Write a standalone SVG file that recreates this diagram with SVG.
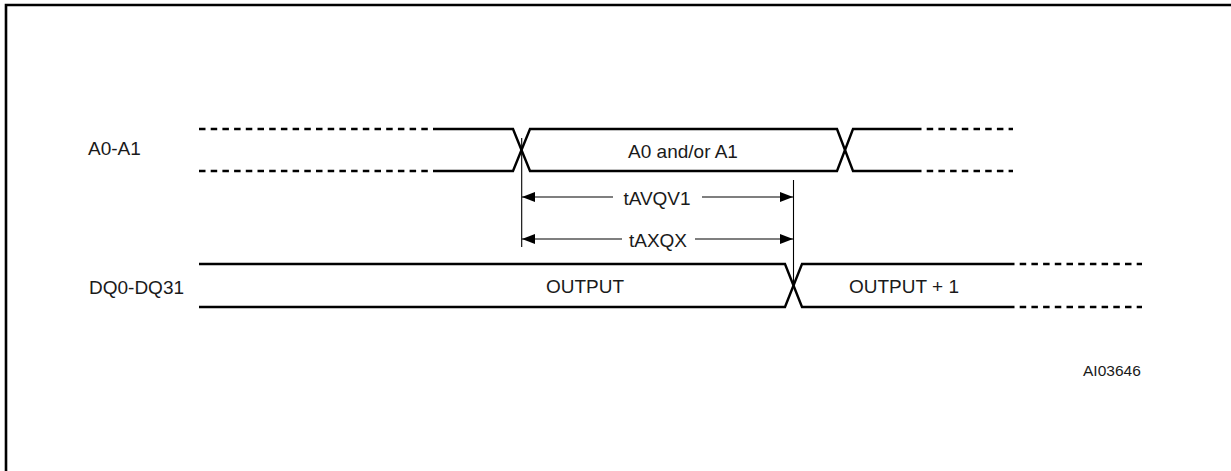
<svg xmlns="http://www.w3.org/2000/svg" width="1231" height="471" viewBox="0 0 1231 471">
<style>
text{font-family:"Liberation Sans",Arial,sans-serif;font-size:19px;fill:#1a1a1a}
.sig{fill:none;stroke:#000;stroke-width:2.4;stroke-linejoin:miter}
.dash{fill:none;stroke:#000;stroke-width:2.4;stroke-dasharray:6.5 5.2}
.thin{fill:none;stroke:#000;stroke-width:1.1}
.frame{fill:none;stroke:#000;stroke-width:2.6}
</style>
<defs>
<marker id="ah" viewBox="0 0 13 10" refX="13" refY="5" markerWidth="13" markerHeight="10" markerUnits="userSpaceOnUse" orient="auto-start-reverse">
<path d="M0,0 L13,5 L0,10 Z" fill="#000"/>
</marker>
</defs>
<path class="frame" d="M6,480 L6,5 L1240,5"/>
<g id="a0a1">
<text x="88" y="155">A0-A1</text>
<line class="dash" x1="199" y1="129" x2="437" y2="129"/>
<line class="dash" x1="199" y1="171" x2="437" y2="171"/>
<path class="sig" d="M437,129 L513,129 L530,171 L837,171 L853,129 L915,129"/>
<path class="sig" d="M437,171 L513,171 L530,129 L837,129 L853,171 L915,171"/>
<line class="dash" x1="915" y1="129" x2="1013" y2="129"/>
<line class="dash" x1="915" y1="171" x2="1013" y2="171"/>
<text x="683" y="158" text-anchor="middle">A0 and/or A1</text>
</g>
<g id="dq">
<text x="89" y="294">DQ0-DQ31</text>
<path class="sig" d="M199,264 L785,264 L802,307 L1008,307"/>
<path class="sig" d="M199,307 L785,307 L802,264 L1008,264"/>
<line class="dash" x1="1008" y1="264" x2="1142" y2="264"/>
<line class="dash" x1="1008" y1="307" x2="1142" y2="307"/>
<text x="585" y="293" text-anchor="middle">OUTPUT</text>
<text x="904" y="293" text-anchor="middle">OUTPUT + 1</text>
</g>
<g id="connectors">
<line class="thin" x1="521.7" y1="138" x2="521.7" y2="247"/>
<line class="thin" x1="793.5" y1="180" x2="793.5" y2="286"/>
<line class="thin" x1="613" y1="197" x2="522" y2="197" marker-end="url(#ah)"/>
<line class="thin" x1="702" y1="197" x2="793" y2="197" marker-end="url(#ah)"/>
<text x="657" y="205" text-anchor="middle">tAVQV1</text>
<line class="thin" x1="622" y1="239" x2="522" y2="239" marker-end="url(#ah)"/>
<line class="thin" x1="695" y1="239" x2="793" y2="239" marker-end="url(#ah)"/>
<text x="658" y="247" text-anchor="middle">tAXQX</text>
</g>
<text x="1083" y="376" style="font-size:15.5px">AI03646</text>
</svg>
